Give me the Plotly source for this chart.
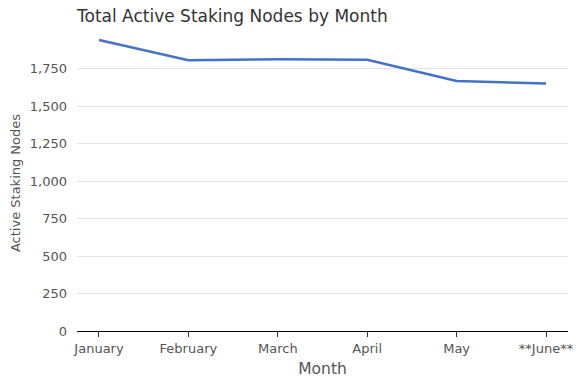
import plotly.graph_objects as go

months = ["January", "February", "March", "April", "May", "**June**"]
nodes = [1942, 1806, 1814, 1810, 1668, 1652]
y_ticks = [0, 250, 500, 750, 1000, 1250, 1500, 1750]

fig = go.Figure()
fig.add_trace(go.Scatter(x=months, y=nodes, mode="lines",
                         line=dict(color="#4472C4", width=2.5)))

fig.update_layout(
    width=583, height=387,
    margin=dict(l=77, r=15, t=35, b=56),
    paper_bgcolor="white", plot_bgcolor="white",
    font=dict(family="DejaVu Sans, Verdana, sans-serif", color="#555555", size=12),
    title=dict(text="Total Active Staking Nodes by Month", x=77/583, xanchor="left",
               y=1 - 16/387, yanchor="middle",
               font=dict(size=17, color="#333333")),
    showlegend=False,
)
fig.update_xaxes(
    type="category", range=[-0.246, 5.246], automargin=False,
    showline=True, linecolor="black", linewidth=1,
    ticks="outside", ticklen=5, tickcolor="#333333",
    showgrid=False,
    tickfont=dict(size=13),
    title=dict(text="Month", font=dict(size=15.5, color="#555555"), standoff=8),
)
fig.update_yaxes(
    range=[0, 1975], tickvals=y_ticks, tickformat=",", automargin=False,
    showgrid=True, gridcolor="#e3e3e3", zeroline=False, showline=False,
    ticks="", tickfont=dict(size=13), ticklabelstandoff=9,
    title=dict(text="Active Staking Nodes", font=dict(size=13, color="#555555"), standoff=6),
)

fig.write_html("out.html")
